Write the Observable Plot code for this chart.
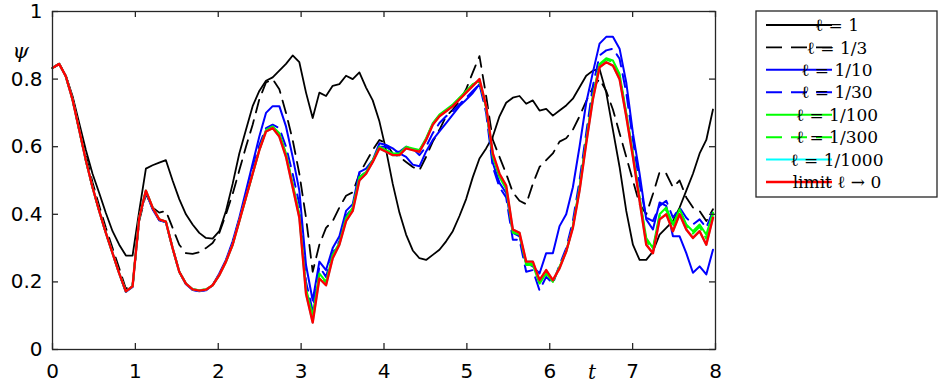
<!DOCTYPE html>
<html><head><meta charset="utf-8">
<script src="https://cdn.jsdelivr.net/npm/d3@7"></script>
<script src="https://cdn.jsdelivr.net/npm/@observablehq/plot@0.6"></script>
<style>
body{margin:0;background:#fff;}
#chart{width:945px;height:389px;}
</style>
</head><body><div id="chart"></div>
<script>
// sample spacing of the time grid (100 samples)
const dt = 0.0805;

const seriesLabels = ["ℓ = 1","ℓ = 1/3","ℓ = 1/10","ℓ = 1/30","ℓ = 1/100","ℓ = 1/300","ℓ = 1/1000","limit ℓ → 0"];
const seriesColors = ["#000000","#000000","#0000ff","#0000ff","#00ff00","#00ff00","#00ffff","#ff0000"];
const seriesDashed = [false,true,false,true,false,true,false,false];

const xTicks = [0,1,2,3,4,5,6,7,8];
const yTicks = [0,0.2,0.4,0.6,0.8,1];

const psi_l1 = [
0.833,0.845,0.81,0.75,0.67,0.59,0.52,0.463,0.404,0.35,
0.31,0.278,0.278,0.41,0.535,0.545,0.553,0.56,0.50,0.445,
0.40,0.37,0.345,0.33,0.328,0.35,0.41,0.49,0.58,0.65,
0.72,0.765,0.795,0.805,0.825,0.845,0.87,0.85,0.76,0.685,
0.76,0.75,0.78,0.785,0.81,0.80,0.82,0.775,0.737,0.675,
0.59,0.49,0.405,0.34,0.293,0.27,0.265,0.28,0.295,0.32,
0.35,0.395,0.445,0.51,0.565,0.595,0.63,0.69,0.73,0.745,
0.75,0.727,0.737,0.707,0.712,0.692,0.707,0.722,0.742,0.776,
0.81,0.825,0.83,0.76,0.65,0.54,0.41,0.31,0.265,0.265,
0.29,0.34,0.36,0.38,0.42,0.47,0.52,0.58,0.62,0.71];

const psi_l3 = [
0.833,0.845,0.81,0.745,0.66,0.575,0.495,0.425,0.36,0.30,
0.24,0.18,0.19,0.38,0.46,0.42,0.405,0.41,0.36,0.31,
0.285,0.283,0.288,0.30,0.315,0.345,0.40,0.46,0.53,0.60,
0.665,0.74,0.79,0.80,0.77,0.70,0.62,0.52,0.39,0.23,
0.31,0.36,0.38,0.42,0.455,0.465,0.52,0.555,0.59,0.62,
0.61,0.58,0.57,0.555,0.54,0.53,0.57,0.615,0.65,0.69,
0.71,0.735,0.77,0.82,0.868,0.75,0.62,0.57,0.52,0.465,
0.44,0.43,0.49,0.54,0.56,0.58,0.615,0.625,0.65,0.69,
0.735,0.775,0.80,0.765,0.71,0.64,0.57,0.50,0.43,0.40,
0.46,0.525,0.52,0.48,0.50,0.45,0.42,0.41,0.38,0.415];

const psi_l10 = [
0.833,0.845,0.808,0.74,0.65,0.56,0.48,0.41,0.345,0.285,
0.225,0.17,0.185,0.39,0.465,0.415,0.382,0.376,0.30,0.23,
0.193,0.176,0.172,0.175,0.19,0.225,0.265,0.32,0.39,0.47,
0.55,0.63,0.70,0.72,0.72,0.66,0.57,0.47,0.25,0.145,
0.26,0.235,0.30,0.335,0.41,0.43,0.525,0.535,0.56,0.61,
0.605,0.595,0.58,0.57,0.547,0.542,0.586,0.62,0.645,0.67,
0.695,0.72,0.739,0.759,0.785,0.72,0.552,0.493,0.463,0.345,
0.335,0.256,0.246,0.225,0.285,0.285,0.365,0.40,0.48,0.60,
0.73,0.82,0.905,0.925,0.925,0.89,0.79,0.64,0.52,0.385,
0.355,0.435,0.425,0.335,0.335,0.285,0.227,0.246,0.222,0.295];

const psi_l30 = [
0.833,0.845,0.808,0.74,0.65,0.56,0.48,0.41,0.345,0.285,
0.225,0.171,0.186,0.39,0.467,0.417,0.383,0.377,0.30,0.23,
0.194,0.177,0.173,0.176,0.19,0.222,0.262,0.315,0.385,0.46,
0.535,0.605,0.655,0.665,0.655,0.60,0.52,0.43,0.20,0.115,
0.245,0.215,0.285,0.32,0.395,0.42,0.51,0.525,0.555,0.60,
0.60,0.585,0.585,0.60,0.595,0.575,0.60,0.64,0.67,0.69,
0.705,0.725,0.745,0.765,0.785,0.70,0.54,0.48,0.45,0.325,
0.325,0.23,0.235,0.175,0.215,0.195,0.25,0.30,0.38,0.50,
0.64,0.78,0.87,0.885,0.89,0.86,0.76,0.62,0.49,0.39,
0.38,0.425,0.44,0.39,0.42,0.39,0.37,0.385,0.36,0.41];

const psi_l100 = [
0.833,0.845,0.808,0.74,0.65,0.56,0.48,0.41,0.345,0.285,
0.225,0.172,0.187,0.39,0.47,0.42,0.385,0.378,0.30,0.23,
0.195,0.178,0.175,0.178,0.19,0.22,0.26,0.31,0.38,0.45,
0.52,0.59,0.65,0.66,0.64,0.58,0.49,0.40,0.18,0.10,
0.225,0.20,0.28,0.315,0.39,0.42,0.51,0.525,0.56,0.60,
0.59,0.58,0.58,0.60,0.595,0.59,0.625,0.67,0.695,0.71,
0.725,0.745,0.765,0.785,0.795,0.715,0.57,0.51,0.475,0.345,
0.34,0.25,0.25,0.195,0.225,0.20,0.245,0.29,0.365,0.48,
0.62,0.75,0.845,0.862,0.855,0.815,0.70,0.58,0.45,0.33,
0.30,0.40,0.42,0.37,0.415,0.37,0.35,0.37,0.34,0.405];

const psi_l300 = [
0.833,0.845,0.808,0.74,0.65,0.56,0.48,0.41,0.345,0.285,
0.225,0.172,0.187,0.39,0.47,0.42,0.385,0.378,0.30,0.23,
0.195,0.178,0.175,0.178,0.19,0.22,0.26,0.31,0.38,0.45,
0.52,0.59,0.648,0.657,0.637,0.577,0.487,0.397,0.175,0.095,
0.22,0.197,0.277,0.313,0.387,0.417,0.507,0.522,0.558,0.598,
0.588,0.578,0.578,0.598,0.593,0.588,0.623,0.668,0.693,0.708,
0.723,0.743,0.763,0.783,0.797,0.717,0.575,0.515,0.48,0.35,
0.342,0.255,0.255,0.20,0.23,0.202,0.243,0.29,0.363,0.477,
0.617,0.747,0.842,0.858,0.85,0.81,0.697,0.577,0.447,0.322,
0.295,0.395,0.413,0.362,0.41,0.366,0.343,0.363,0.328,0.40];

const psi_l1000 = [
0.833,0.845,0.808,0.74,0.65,0.56,0.48,0.41,0.345,0.285,
0.225,0.172,0.187,0.39,0.47,0.42,0.385,0.378,0.30,0.23,
0.195,0.178,0.174,0.177,0.19,0.22,0.26,0.31,0.38,0.45,
0.52,0.59,0.645,0.655,0.63,0.57,0.48,0.39,0.165,0.08,
0.21,0.19,0.27,0.31,0.38,0.41,0.50,0.52,0.555,0.595,
0.585,0.575,0.575,0.595,0.59,0.585,0.62,0.665,0.69,0.705,
0.72,0.74,0.76,0.78,0.80,0.72,0.58,0.52,0.485,0.355,
0.345,0.26,0.26,0.205,0.235,0.205,0.24,0.29,0.36,0.47,
0.61,0.74,0.835,0.85,0.84,0.80,0.69,0.57,0.44,0.31,
0.285,0.385,0.40,0.35,0.40,0.355,0.33,0.35,0.31,0.39];

const psi_limit = [
0.833,0.845,0.808,0.74,0.65,0.56,0.48,0.41,0.345,0.285,
0.225,0.172,0.187,0.39,0.47,0.42,0.385,0.378,0.30,0.23,
0.195,0.178,0.174,0.177,0.19,0.22,0.26,0.31,0.38,0.45,
0.52,0.59,0.645,0.655,0.63,0.57,0.48,0.39,0.165,0.08,
0.21,0.19,0.27,0.31,0.38,0.41,0.50,0.52,0.555,0.595,
0.585,0.575,0.575,0.595,0.59,0.585,0.62,0.665,0.69,0.705,
0.72,0.74,0.76,0.78,0.80,0.72,0.58,0.52,0.485,0.355,
0.345,0.26,0.26,0.205,0.235,0.205,0.24,0.29,0.36,0.47,
0.61,0.74,0.835,0.85,0.84,0.80,0.69,0.57,0.44,0.31,
0.285,0.385,0.40,0.35,0.40,0.355,0.33,0.35,0.31,0.39];

const allSeries = [psi_l1, psi_l3, psi_l10, psi_l30, psi_l100, psi_l300, psi_l1000, psi_limit];
const tGrid = d3.range(psi_limit.length).map(k => k * dt);
const widths = [1.8,1.8,2,2,2,2,2,2.4];

const W = 945, H = 389, mL = 52, mR = 230, mT = 11, mB = 40;
const plotW = W - mL - mR, plotH = H - mT - mB;
const tickLen = 6;
const tx = tickLen / plotW * 8, ty = tickLen / plotH * 1;
const axisColor = "#262626";

const lineMarks = allSeries.map((s, i) =>
  Plot.line(s.map((v, k) => ({t: tGrid[k], psi: v})), {
    x: "t", y: "psi",
    stroke: seriesColors[i],
    strokeWidth: widths[i],
    strokeDasharray: seriesDashed[i] ? "13,8" : null,
    strokeLinejoin: "round"
  })
);

const chart = Plot.plot({
  width: W, height: H,
  marginLeft: mL, marginRight: mR, marginTop: mT, marginBottom: mB,
  x: {domain: [0, 8]},
  y: {domain: [0, 1]},
  style: {fontFamily: "DejaVu Sans, sans-serif", fontSize: "20px", background: "white", color: "black"},
  marks: [
    ...lineMarks,
    Plot.frame({stroke: axisColor, strokeWidth: 1.3}),
    Plot.ruleX(xTicks, {x: d => d, y1: 0, y2: ty, stroke: axisColor, strokeWidth: 1.3}),
    Plot.ruleX(xTicks, {x: d => d, y1: 1 - ty, y2: 1, stroke: axisColor, strokeWidth: 1.3}),
    Plot.ruleY(yTicks, {y: d => d, x1: 0, x2: tx, stroke: axisColor, strokeWidth: 1.3}),
    Plot.ruleY(yTicks, {y: d => d, x1: 8 - tx, x2: 8, stroke: axisColor, strokeWidth: 1.3}),
    Plot.axisX({ticks: xTicks, tickSize: 0, tickPadding: 14, label: null, fontSize: 20, fill: "black"}),
    Plot.axisY({ticks: yTicks, tickSize: 0, tickPadding: 10, label: null, fontSize: 20, fill: "black",
      tickFormat: d => (d === 0 || d === 1) ? String(d) : d.toFixed(1)}),
    Plot.text(["ψ"], {frameAnchor: "top-left", dx: -40, dy: 32, text: d => d, fontSize: 21,
      fontStyle: "italic", fontFamily: "DejaVu Serif, serif", fill: "black"}),
    Plot.text([6.51], {x: d => d, frameAnchor: "bottom", dy: 29, text: () => "t", fontSize: 20,
      fontStyle: "italic", fontFamily: "DejaVu Serif, serif", fill: "black"})
  ]
});

document.getElementById("chart").appendChild(chart);

// Legend (right of plot)
const svg = d3.select(chart.tagName.toLowerCase() === "svg" ? chart : chart.querySelector("svg"));
const lg = svg.append("g").attr("class", "legend");
const boxX = 756, boxY = 11, boxW = 181, boxH = 186;
lg.append("rect").attr("x", boxX).attr("y", boxY).attr("width", boxW).attr("height", boxH)
  .attr("fill", "white").attr("stroke", axisColor).attr("stroke-width", 1.3);
const rowY0 = 25, rowStep = 22.43;
seriesLabels.forEach((lab, i) => {
  const y = rowY0 + i * rowStep;
  lg.append("line").attr("x1", 766).attr("x2", 832).attr("y1", y).attr("y2", y)
    .attr("stroke", seriesColors[i]).attr("stroke-width", widths[i])
    .attr("stroke-dasharray", seriesDashed[i] ? "16,9" : null);
  lg.append("text").attr("x", 837).attr("y", y).attr("dy", "0.36em")
    .attr("font-family", "DejaVu Serif, serif").attr("font-size", 17).attr("fill", "black")
    .text(lab);
});
</script>
</body></html>
